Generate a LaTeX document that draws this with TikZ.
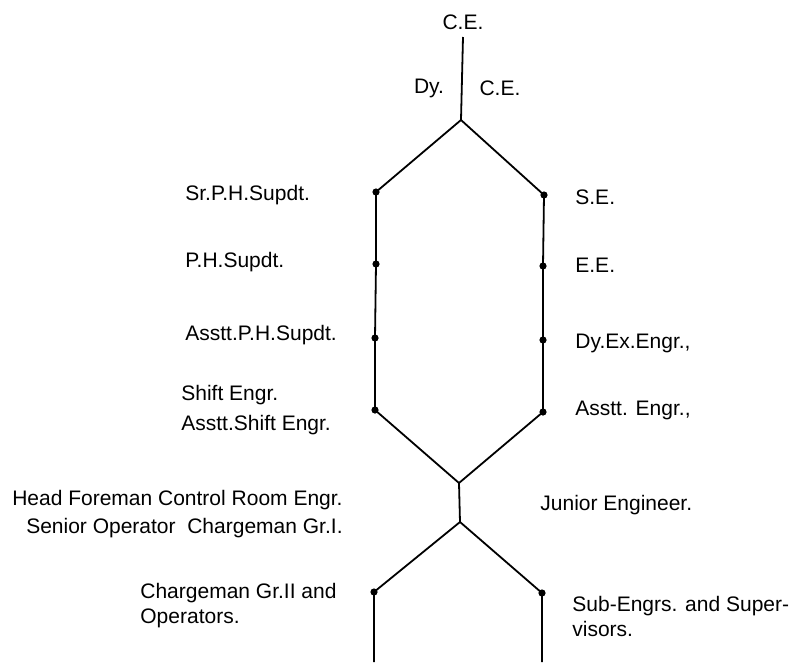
\documentclass[tikz,border=0pt]{standalone}
\usepackage{fontspec}
\setmainfont{Liberation Sans}
\begin{document}
\begin{tikzpicture}[
    x=0.5pt, y=-0.5pt,
    every node/.style={font=\fontsize{10.5}{12.5}\selectfont},
    dot/.style={circle, fill, inner sep=0pt, minimum size=3.6pt},
    link/.style={line width=0.9pt},
    lbl/.style={anchor=west, inner sep=0pt},
    rlbl/.style={anchor=east, inner sep=0pt}
]
\useasboundingbox (0,0) rectangle (799,665);

% body spoje
\coordinate (top) at (463,37);
\coordinate (apex) at (461,120);
\coordinate (j1) at (459,483);
\coordinate (j2) at (460,522);
\coordinate (lend) at (374,662);
\coordinate (rend) at (542,662);

% tecky
\node[dot] (l1) at (376,192) {};
\node[dot] (l2) at (376,264) {};
\node[dot] (l3) at (375,338) {};
\node[dot] (l4) at (375,410) {};
\node[dot] (r1) at (544,195) {};
\node[dot] (r2) at (543,266) {};
\node[dot] (r3) at (543,340) {};
\node[dot] (r4) at (543,412) {};
\node[dot] (bl) at (374,592) {};
\node[dot] (br) at (542,593) {};

% hrany
\draw[link] (top) -- (apex);
\draw[link] (apex) -- (l1.center) -- (l2.center) -- (l3.center) -- (l4.center) -- (j1);
\draw[link] (apex) -- (r1.center) -- (r2.center) -- (r3.center) -- (r4.center) -- (j1);
\draw[link] (j1) -- (j2);
\draw[link] (j2) -- (bl.center) -- (lend);
\draw[link] (j2) -- (br.center) -- (rend);

% popisky nahore
\node (ce) at (463,22) {C.E.};
\node (dy) at (429,88) {Dy.};
\node (dyce) at (500,88) {C.E.};

% levy sloupec
\node[lbl] (srph) at (185,195) {Sr.P.H.Supdt.};
\node[lbl] (ph) at (185,262) {P.H.Supdt.};
\node[lbl] (asph) at (185,335) {Asstt.P.H.Supdt.};
\node[lbl] (shift) at (181,395) {Shift Engr.};
\node[lbl] (asshift) at (181,425) {Asstt.Shift Engr.};
\node[rlbl] (head) at (343,500) {Head Foreman Control Room Engr.};
\node[rlbl] (senior) at (343,528) {Senior Operator\ \ Chargeman Gr.I.};
\node[lbl, align=left] (chg) at (140,606) {Chargeman Gr.II and\\Operators.};

% pravy sloupec
\node[lbl] (se) at (575,197) {S.E.};
\node[lbl] (ee) at (575,265) {E.E.};
\node[lbl] (dyex) at (575,343) {Dy.Ex.Engr.,};
\node[lbl] (asengr) at (575,410) {Asstt. Engr.,};
\node[lbl] (je) at (540,505) {Junior Engineer.};
\node[lbl, align=left] (sub) at (572,616) {Sub-Engrs. and Super-\\visors.};

\end{tikzpicture}
\end{document}
